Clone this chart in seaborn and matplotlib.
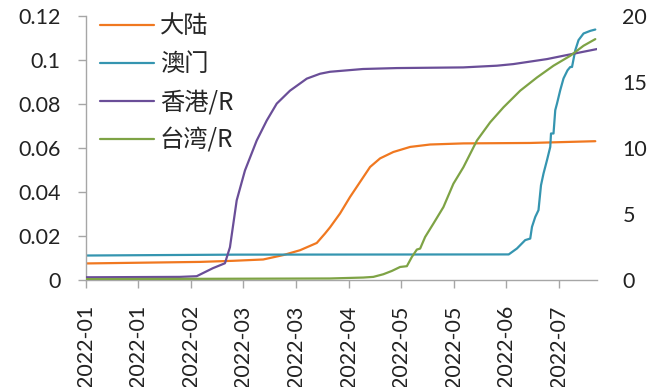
import matplotlib
matplotlib.use("Agg")
import matplotlib.pyplot as plt
import matplotlib.dates as mdates
import seaborn as sns
import pandas as pd
import numpy as np

# ---- data ----
start = pd.Timestamp("2022-01-01")

# 大陆 (left axis)
mainland_days = [0, 45.6, 58.9, 70.9, 78.9, 85.6, 92.3, 95.6, 97.6, 101.6, 105.6, 109.6,
                 113.6, 117.6, 122.9, 129.6, 137.6, 150.9, 177.6, 203.6]
mainland_vals = [0.0076, 0.0083, 0.0088, 0.0094, 0.0114, 0.0136, 0.0169, 0.0212, 0.0240,
                 0.0303, 0.0378, 0.0446, 0.0514, 0.0553, 0.0582, 0.0605, 0.0616, 0.0621,
                 0.0623, 0.0631]

# 澳门 (left axis)
macau_days = [0, 60, 169, 172.3, 175.6, 177.6, 178.3, 179.6, 180.9, 181.9, 182.9, 184.3,
              185.6, 185.9, 186.9, 187.6, 188.3, 189.6, 190.9, 192.5, 193.6, 194.3,
              195.6, 196.9, 198.9, 201.6, 203.6]
macau_vals = [0.0112, 0.0116, 0.0117, 0.0144, 0.0182, 0.0189, 0.0242, 0.0287, 0.0318,
              0.0431, 0.0484, 0.0545, 0.0605, 0.0666, 0.0666, 0.0772, 0.0802, 0.0863,
              0.0916, 0.0953, 0.0968, 0.0968, 0.1044, 0.1090, 0.1120, 0.1132, 0.1138]

# 香港/R (right axis)
hk_days = [0, 37.6, 44.3, 50.8, 55.6, 57.6, 60.3, 63.6, 68.3, 72.3, 76.3, 81.6, 88.3,
           93.6, 97.6, 110.8, 124.3, 150.8, 164.3, 170.8, 184.3, 190.8, 204.3]
hk_vals = [0.22, 0.25, 0.30, 0.91, 1.28, 2.49, 6.04, 8.30, 10.57, 12.08, 13.36, 14.34,
           15.25, 15.62, 15.77, 15.98, 16.05, 16.10, 16.23, 16.35, 16.73, 16.98, 17.49]

# 台湾/R (right axis)
tw_days = [0, 97.6, 110.9, 114.9, 118.9, 122.3, 125.6, 128.3, 130.3, 132.3, 133.6, 135.6,
           138.9, 142.9, 146.9, 150.9, 156.3, 161.6, 166.9, 173.6, 180.3, 186.9, 193.6,
           198.9, 203.6]
tw_vals = [0.08, 0.13, 0.20, 0.25, 0.45, 0.70, 1.00, 1.06, 1.76, 2.32, 2.39, 3.27, 4.28,
           5.53, 7.30, 8.55, 10.57, 11.95, 13.08, 14.34, 15.34, 16.23, 16.98, 17.74, 18.24]

names = ["大陆", "澳门", "香港/R", "台湾/R"]
colors = ["#F07820", "#3595B0", "#6A4E98", "#7EA345"]

left_ticks = [0, 0.02, 0.04, 0.06, 0.08, 0.1, 0.12]
left_labels = ["0", "0.02", "0.04", "0.06", "0.08", "0.1", "0.12"]
right_ticks = [0, 5, 10, 15, 20]


def to_df(days, vals):
    return pd.DataFrame({"date": [start + pd.Timedelta(days=d) for d in days], "v": vals})


sns.set_theme(style="white")
plt.rcParams["font.family"] = ["Lato", "Noto Sans CJK SC", "DejaVu Sans"]

fig = plt.figure(figsize=(6.6, 3.87), dpi=100)
ax = fig.add_axes([0.130, 0.276, 0.775, 0.683])
ax2 = ax.twinx()

lw = 1.6
sns.lineplot(data=to_df(mainland_days, mainland_vals), x="date", y="v", ax=ax,
             color=colors[0], lw=lw, label=names[0], legend=False)
sns.lineplot(data=to_df(macau_days, macau_vals), x="date", y="v", ax=ax,
             color=colors[1], lw=lw, label=names[1], legend=False)
sns.lineplot(data=to_df(hk_days, hk_vals), x="date", y="v", ax=ax2,
             color=colors[2], lw=lw, label=names[2], legend=False)
sns.lineplot(data=to_df(tw_days, tw_vals), x="date", y="v", ax=ax2,
             color=colors[3], lw=lw, label=names[3], legend=False)

ax.set_ylim(0, 0.12)
ax2.set_ylim(0, 20)
ax.set_xlim(start, start + pd.Timedelta(days=204.4))

ax.set_yticks(left_ticks)
ax.set_yticklabels(left_labels)
ax2.set_yticks(right_ticks)

xt = [start + pd.Timedelta(days=21 * i) for i in range(10)]
ax.set_xticks(xt)
ax.xaxis.set_major_formatter(mdates.DateFormatter("%Y-%m"))
for lab in ax.get_xticklabels():
    lab.set_rotation(90)

ax.set_xlabel("")
ax.set_ylabel("")
ax2.set_ylabel("")

gray = "#A6A6A6"
for s in ["top", "right"]:
    ax.spines[s].set_visible(False)
for s in ["top", "right", "left", "bottom"]:
    ax2.spines[s].set_visible(False)
ax.spines["left"].set_color(gray)
ax.spines["bottom"].set_color(gray)
ax.spines["left"].set_linewidth(1.0)
ax.spines["bottom"].set_linewidth(1.0)

ax.tick_params(axis="y", which="both", left=True, length=6, width=1.0, color=gray,
               pad=12, labelsize=15.5, labelcolor="#222222")
ax.tick_params(axis="x", which="both", bottom=True, length=6, width=1.0, color=gray,
               pad=12, labelsize=15.5, labelcolor="#222222")
ax2.tick_params(axis="y", right=False, length=0, pad=18, labelsize=15.5,
                labelcolor="#222222")

h1, l1 = ax.get_legend_handles_labels()
h2, l2 = ax2.get_legend_handles_labels()
leg = ax2.legend(h1 + h2, l1 + l2, loc="upper left", bbox_to_anchor=(-0.005, 1.075),
                 frameon=False, handlelength=2.2, handletextpad=0.25,
                 labelspacing=0.5, borderaxespad=0.3,
                 prop={"family": ["Noto Sans CJK SC", "DejaVu Sans"], "size": 17.5})

fig.savefig("out.png", dpi=100)
